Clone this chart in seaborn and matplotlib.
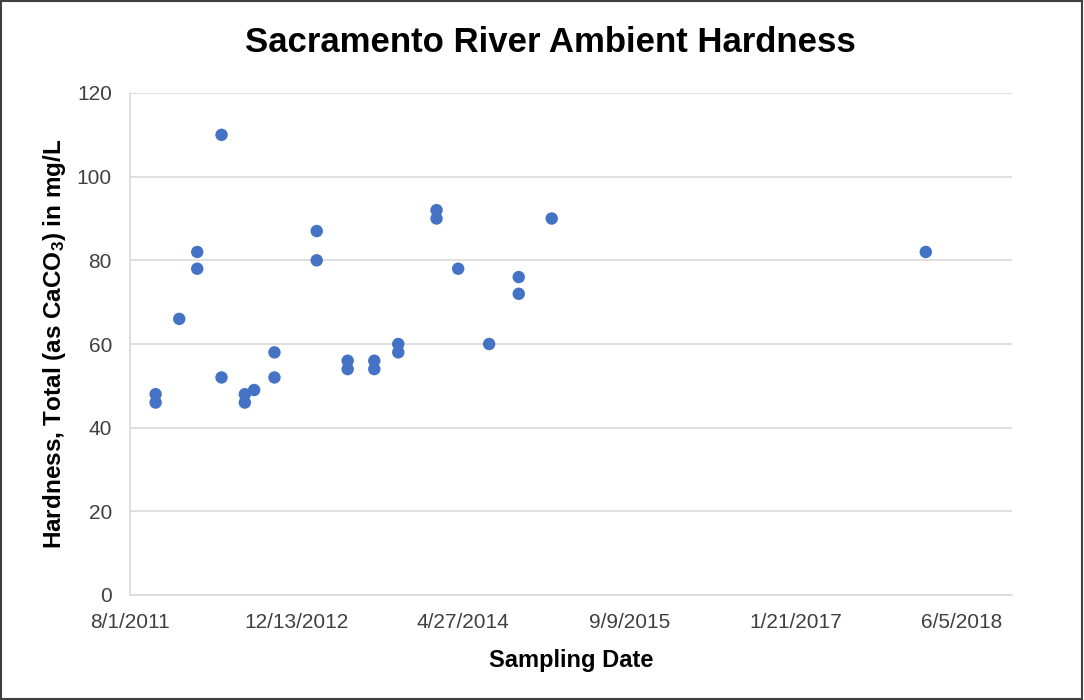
import matplotlib
matplotlib.use("Agg")
import matplotlib.pyplot as plt
import seaborn as sns
import pandas as pd
from matplotlib.patches import Rectangle

# Data
dates = ["2011-10-17", "2011-10-17", "2011-12-27", "2012-02-19", "2012-02-19",
         "2012-05-02", "2012-05-02", "2012-07-11", "2012-07-11", "2012-08-08",
         "2012-10-08", "2012-10-08", "2013-02-12", "2013-02-12", "2013-05-16",
         "2013-05-16", "2013-08-04", "2013-08-04", "2013-10-15", "2013-10-15",
         "2014-02-07", "2014-02-07", "2014-04-13", "2014-07-15", "2014-10-12",
         "2014-10-12", "2015-01-19", "2018-02-16"]
hardness = [48, 46, 66, 82, 78,
            110, 52, 48, 46, 49,
            58, 52, 87, 80, 56,
            54, 56, 54, 60, 58,
            92, 90, 78, 60, 76,
            72, 90, 82]
tick_dates = ["2011-08-01", "2012-12-13", "2014-04-27", "2015-09-09", "2017-01-21", "2018-06-05"]
tick_labels = ["8/1/2011", "12/13/2012", "4/27/2014", "9/9/2015", "1/21/2017", "6/5/2018"]
y_ticks = [0, 20, 40, 60, 80, 100, 120]

df = pd.DataFrame({"date": pd.to_datetime(dates), "hardness": hardness})

sns.set_theme(style="white")
plt.rcParams['font.family'] = ['Liberation Sans', 'DejaVu Sans']
plt.rcParams['mathtext.default'] = 'regular'

fig = plt.figure(figsize=(10.84, 7.0), dpi=100)
ax = fig.add_axes([130/1084, 1-595/700, (1012-130)/1084, (595-93)/700])

sns.scatterplot(data=df, x="date", y="hardness", ax=ax, color="#4472C4",
                s=80, edgecolor="none", zorder=3)

x0 = pd.Timestamp("2011-08-01")
ax.set_xlim(x0, x0 + pd.Timedelta(days=2650))
ax.set_ylim(0, 120)
ax.set_xticks(pd.to_datetime(tick_dates))
ax.set_xticklabels(tick_labels)
ax.set_yticks(y_ticks)
ax.tick_params(axis="both", length=0, labelsize=15, colors="#404040")
ax.tick_params(axis="x", pad=13)
ax.tick_params(axis="y", pad=13)
ax.yaxis.grid(True, color="#D9D9D9", linewidth=1.2)
ax.xaxis.grid(False)
for side in ["top", "right"]:
    ax.spines[side].set_visible(False)
for side in ["left", "bottom"]:
    ax.spines[side].set_color("#D9D9D9")
    ax.spines[side].set_linewidth(1.2)

ax.set_xlabel("Sampling Date", fontsize=17, fontweight="bold", color="black", labelpad=12)
ax.set_ylabel("Hardness, Total (as CaCO$_3$) in mg/L", fontsize=17.5, fontweight="bold",
              color="black", labelpad=6)
fig.suptitle("Sacramento River Ambient Hardness", x=550/1084, y=1-43/700, va="center",
             fontsize=25, fontweight="bold", color="black")

fig.patches.append(Rectangle((0.001, 0.001), 0.997, 0.997, transform=fig.transFigure,
                             fill=False, edgecolor="#404040", linewidth=1.5))

fig.savefig("out.png", dpi=100)
